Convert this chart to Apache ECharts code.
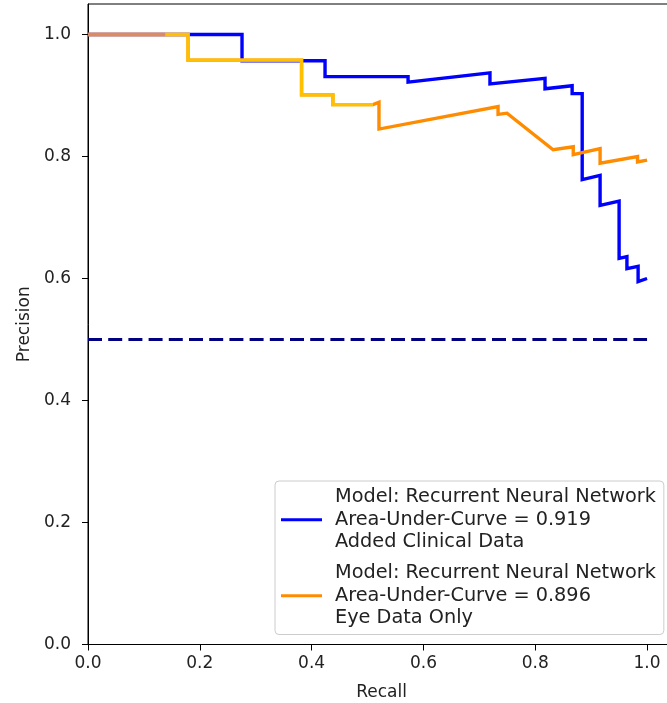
<!DOCTYPE html>
<html>
<head>
<meta charset="utf-8">
<script src="https://cdn.jsdelivr.net/npm/echarts@6/dist/echarts.min.js"></script>
<style>html,body{margin:0;padding:0;background:#fff}#c{width:667px;height:703px}</style>
</head>
<body>
<div id="c"></div>
<script>
// ---- data ----
const blueRecall    = [0, 0.2755, 0.2755, 0.424, 0.424, 0.5725, 0.5725, 0.719, 0.719, 0.8175, 0.8175, 0.866, 0.866, 0.884, 0.884, 0.916, 0.916, 0.950, 0.950, 0.964, 0.964, 0.984, 0.984, 1.0];
const bluePrecision = [1.0, 1.0, 0.957, 0.957, 0.931, 0.931, 0.922, 0.937, 0.919, 0.928, 0.911, 0.916, 0.903, 0.903, 0.762, 0.769, 0.720, 0.727, 0.633, 0.636, 0.616, 0.620, 0.595, 0.600];

const orangeRecall    = [0, 0.179, 0.179, 0.382, 0.382, 0.438, 0.438, 0.510, 0.5205, 0.5205, 0.7335, 0.7335, 0.7495, 0.832, 0.868, 0.868, 0.916, 0.916, 0.983, 0.983, 1.0];
const orangePrecision = [1.0, 1.0, 0.958, 0.958, 0.901, 0.901, 0.885, 0.885, 0.889, 0.845, 0.882, 0.869, 0.871, 0.811, 0.816, 0.803, 0.813, 0.789, 0.800, 0.791, 0.794];

// gold-tinted and brown-tinted stretches of the orange curve in the reference
const goldRecall    = [0.138, 0.179, 0.179, 0.382, 0.382, 0.438, 0.438, 0.510];
const goldPrecision = [1.0, 1.0, 0.958, 0.958, 0.901, 0.901, 0.885, 0.885];
const brownRecall    = [0, 0.138];
const brownPrecision = [1.0, 1.0];

const baselineRecall    = [0, 1.0];
const baselinePrecision = [0.5, 0.5];

const tickValues = [0, 0.2, 0.4, 0.6, 0.8, 1.0];
const blueName   = 'Model: Recurrent Neural Network\nArea-Under-Curve = 0.919\nAdded Clinical Data';
const orangeName = 'Model: Recurrent Neural Network\nArea-Under-Curve = 0.896\nEye Data Only';

const zip = (a, b) => a.map((v, i) => [v, b[i]]);
const FONT = 'DejaVu Sans';

const chart = echarts.init(document.getElementById('c'), null, {renderer: 'canvas'});
const axisCommon = {
  type: 'value',
  min: 0,
  max: 1.05,
  interval: 0.2,
  splitLine: {show: false},
  axisLine: {show: true, onZero: false, lineStyle: {color: '#000', width: 1}},
  axisTick: {show: true, inside: false, length: 6, lineStyle: {color: '#000', width: 1}, customValues: tickValues},
  axisLabel: {color: '#222', fontFamily: FONT, fontSize: 17, customValues: tickValues, formatter: v => v.toFixed(1)},
  nameLocation: 'middle',
  nameTextStyle: {color: '#222', fontFamily: FONT, fontSize: 17}
};

chart.setOption({
  animation: false,
  backgroundColor: '#fff',
  grid: {left: 88, width: 587, top: 4, height: 640.5, outerBoundsMode: 'none', containLabel: false,
         show: true, borderColor: '#000', borderWidth: 1, backgroundColor: 'transparent'},
  xAxis: Object.assign({}, axisCommon, {name: 'Recall', nameGap: 40, axisLabel: Object.assign({}, axisCommon.axisLabel, {margin: 11})}),
  yAxis: Object.assign({}, axisCommon, {name: 'Precision', nameGap: 54, axisLabel: Object.assign({}, axisCommon.axisLabel, {margin: 17})}),
  legend: {
    data: [blueName, orangeName],
    orient: 'vertical',
    left: 275,
    top: 481,
    padding: [5, 8, 5, 6],
    itemGap: 8.5,
    itemWidth: 41,
    itemHeight: 3,
    icon: 'rect',
    backgroundColor: 'rgba(255,255,255,0.85)',
    borderColor: '#cccccc',
    borderWidth: 1,
    borderRadius: 4,
    textStyle: {color: '#222', fontFamily: FONT, fontSize: 19.3, lineHeight: 22.5, padding: [0, 0, 0, 8]}
  },
  series: [
    {name: 'baseline', type: 'line', data: zip(baselineRecall, baselinePrecision), symbol: 'none', silent: true,
     lineStyle: {color: '#000080', width: 3, type: [14, 6.2]}, z: 2},
    {name: blueName, type: 'line', data: zip(blueRecall, bluePrecision), symbol: 'none',
     itemStyle: {color: '#0000ff'}, lineStyle: {color: '#0000ff', width: 3.4, join: 'miter'}, z: 3},
    {name: orangeName, type: 'line', data: zip(orangeRecall, orangePrecision), symbol: 'none',
     itemStyle: {color: '#ff8c00'}, lineStyle: {color: '#ff8c00', width: 3.4, join: 'miter'}, z: 4},
    {name: 'goldPart', type: 'line', data: zip(goldRecall, goldPrecision), symbol: 'none', silent: true,
     lineStyle: {color: '#ffc000', width: 3.4, join: 'miter'}, z: 5},
    {name: 'brownPart', type: 'line', data: zip(brownRecall, brownPrecision), symbol: 'none', silent: true,
     lineStyle: {color: '#dc8a60', width: 3.4}, z: 5}
  ]
});
</script>
</body>
</html>
